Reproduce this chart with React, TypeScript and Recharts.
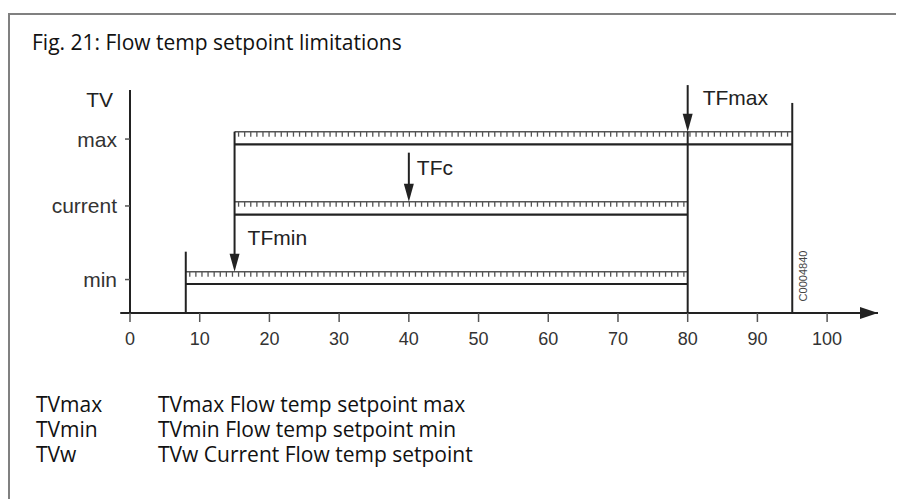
import {
  ComposedChart,
  ReferenceArea,
  ReferenceDot,
  ReferenceLine,
  XAxis,
  YAxis,
} from 'recharts'

// x axis: flow temperature scale, y axis: setpoint levels
const xTicks = [0, 10, 20, 30, 40, 50, 60, 70, 80, 90, 100]
const xAxisStart = -1.4
const xAxisEnd = 107.3

const levelTicks = [15, 48, 78]
const levelNames = ['min', 'current', 'max']

// hatched setpoint bands
const stripFrom = [8, 15, 15]
const stripTo = [80, 80, 95]
const stripBottom = [13.0, 44.1, 75.6]
const stripTop = [18.5, 49.9, 81.3]

// plain vertical limit lines
const limitX = [8, 80, 95]
const limitTop = [27.5, 81.3, 94.2]

// arrows pointing at the bands
const arrowNames = ['TFmin', 'TFc', 'TFmax']
const arrowX = [15, 40, 80]
const arrowFrom = [81.3, 71.9, 102.2]
const arrowTo = [18.5, 49.9, 81.3]
const arrowLabelDx = [13, 8, 15]

const legendKeys = ['TVmax', 'TVmin', 'TVw']
const legendTexts = [
  'TVmax Flow temp setpoint max',
  'TVmin Flow temp setpoint min',
  'TVw Current Flow temp setpoint',
]

const chartFont = '"Liberation Sans", Arial, sans-serif'
const textFont = '"Open Sans", "Noto Sans", sans-serif'
const ink = '#222'

const strips = stripFrom.map((from, i) => ({
  from,
  to: stripTo[i],
  bottom: stripBottom[i],
  top: stripTop[i],
}))

function HatchStrip(props: any) {
  const { x, y, width, height } = props
  const marks = []
  for (let mx = x + 4; mx < x + width - 2; mx += 6.1) {
    marks.push(
      <line key={mx} x1={mx} x2={mx} y1={y} y2={y + 5} stroke="#555" strokeWidth={1.3} />,
    )
  }
  return (
    <g>
      <line x1={x} x2={x + width} y1={y} y2={y} stroke="#555" strokeWidth={1.6} />
      {marks}
      <line x1={x} x2={x + width} y1={y + height} y2={y + height} stroke={ink} strokeWidth={2.2} />
    </g>
  )
}

function makeArrow(name: string, dx: number) {
  return (props: any) => {
    const { x1, y1, x2, y2 } = props
    return (
      <g>
        <line x1={x1} y1={y1} x2={x2} y2={y2 - 14} stroke={ink} strokeWidth={2} />
        <polygon points={`${x2},${y2} ${x2 - 5},${y2 - 18} ${x2 + 5},${y2 - 18}`} fill={ink} />
        <text
          x={x2 + dx}
          y={y2 - 34}
          dominantBaseline="central"
          fontFamily={chartFont}
          fontSize={21}
          fill={ink}
        >
          {name}
        </text>
      </g>
    )
  }
}

function AxisArrowHead(props: any) {
  const { cx, cy } = props
  return <polygon points={`${cx},${cy} ${cx - 18},${cy - 6} ${cx - 18},${cy + 6}`} fill={ink} />
}

function TvLabel(props: any) {
  const { viewBox } = props
  return (
    <text
      x={viewBox.x + viewBox.width - 17}
      y={viewBox.y + 9}
      textAnchor="end"
      dominantBaseline="central"
      fontFamily={chartFont}
      fontSize={21}
      fill={ink}
    >
      TV
    </text>
  )
}

export default function App() {
  return (
    <div style={{ position: 'relative', width: 896, height: 491, overflow: 'hidden' }}>
      <div
        style={{
          position: 'absolute',
          left: 0,
          top: 5,
          width: 1200,
          height: 1200,
          borderLeft: '2px solid #808080',
          borderTop: '2px solid #808080',
        }}
      />
      <div
        style={{
          position: 'absolute',
          left: 24,
          top: 19,
          fontFamily: textFont,
          fontSize: 21,
          lineHeight: '30px',
          color: '#111',
          whiteSpace: 'nowrap',
        }}
      >
        Fig. 21: Flow temp setpoint limitations
      </div>

      <div style={{ position: 'absolute', left: 0, top: 0 }}>
        <ComposedChart
          width={880}
          height={340}
          data={strips}
          margin={{ top: 82, right: 10, left: 0, bottom: 0 }}
        >
          <XAxis
            type="number"
            dataKey="from"
            domain={[0, xAxisEnd]}
            ticks={xTicks}
            interval={0}
            allowDataOverflow
            height={35}
            tickSize={9}
            tickMargin={10}
            axisLine={{ stroke: ink, strokeWidth: 2 }}
            tickLine={{ stroke: '#555', strokeWidth: 1.5 }}
            tick={{ fontSize: 18, fill: '#333', fontFamily: chartFont }}
          />
          <YAxis
            type="number"
            dataKey="top"
            domain={[0, 100]}
            ticks={levelTicks}
            interval={0}
            allowDataOverflow
            width={122}
            tickSize={5}
            tickMargin={8}
            axisLine={{ stroke: ink, strokeWidth: 2 }}
            tickLine={{ stroke: '#555', strokeWidth: 1.5 }}
            tick={{ fontSize: 21, fill: '#333', fontFamily: chartFont }}
            tickFormatter={(v: number) => levelNames[levelTicks.indexOf(v)] ?? ''}
            label={{ content: <TvLabel /> }}
          />

          <ReferenceLine
            segment={[
              { x: xAxisStart, y: 0 },
              { x: 0, y: 0 },
            ]}
            ifOverflow="visible"
            stroke={ink}
            strokeWidth={2}
          />
          <ReferenceDot
            x={xAxisEnd}
            y={0}
            r={6}
            ifOverflow="visible"
            shape={<AxisArrowHead />}
          />

          {strips.map((s, i) => (
            <ReferenceArea
              key={`strip-${i}`}
              x1={s.from}
              x2={s.to}
              y1={s.bottom}
              y2={s.top}
              ifOverflow="visible"
              shape={<HatchStrip />}
            />
          ))}

          {limitX.map((x, i) => (
            <ReferenceLine
              key={`limit-${i}`}
              segment={[
                { x, y: limitTop[i] },
                { x, y: 0 },
              ]}
              ifOverflow="visible"
              stroke={ink}
              strokeWidth={2}
            />
          ))}

          {arrowX.map((x, i) => (
            <ReferenceLine
              key={`arrow-${i}`}
              segment={[
                { x, y: arrowFrom[i] },
                { x, y: arrowTo[i] },
              ]}
              ifOverflow="visible"
              shape={makeArrow(arrowNames[i], arrowLabelDx[i])}
            />
          ))}
        </ComposedChart>
      </div>

      <div
        style={{
          position: 'absolute',
          left: 795,
          top: 268,
          transform: 'translate(-50%, -50%) rotate(-90deg)',
          fontFamily: chartFont,
          fontSize: 11,
          color: '#444',
          whiteSpace: 'nowrap',
        }}
      >
        C0004840
      </div>

      <div
        style={{
          position: 'absolute',
          left: 28,
          top: 384,
          fontFamily: textFont,
          fontSize: 21,
          lineHeight: '25px',
          color: '#111',
        }}
      >
        {legendKeys.map((k, i) => (
          <div key={k} style={{ display: 'flex', whiteSpace: 'nowrap' }}>
            <span style={{ width: 122 }}>{k}</span>
            <span>{legendTexts[i]}</span>
          </div>
        ))}
      </div>
    </div>
  )
}
